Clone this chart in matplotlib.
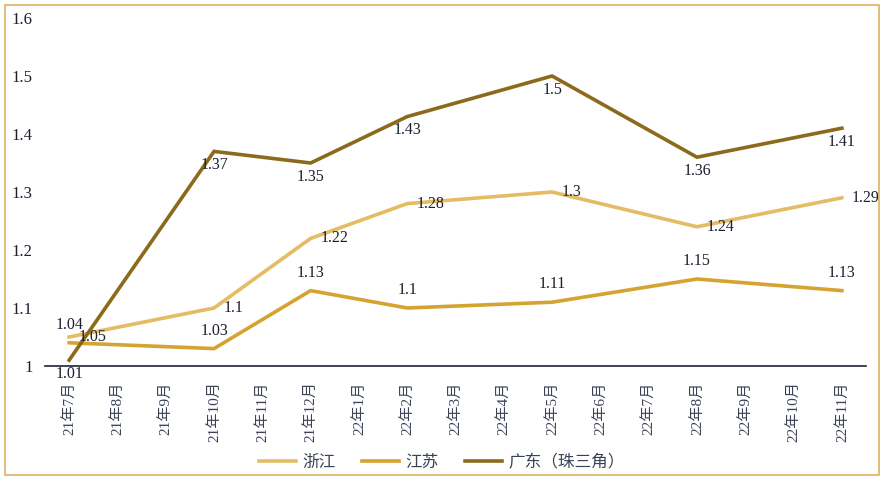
import matplotlib
matplotlib.use("Agg")
import matplotlib.pyplot as plt
from matplotlib.patches import Rectangle

plt.rcParams['font.family'] = ['Liberation Serif', 'Noto Sans CJK SC', 'DejaVu Sans']

months = ["21年7月", "21年8月", "21年9月", "21年10月", "21年11月", "21年12月",
          "22年1月", "22年2月", "22年3月", "22年4月", "22年5月", "22年6月",
          "22年7月", "22年8月", "22年9月", "22年10月", "22年11月"]
point_months = ["21年7月", "21年10月", "21年12月", "22年2月", "22年5月", "22年8月", "22年11月"]
zhejiang = [1.05, 1.10, 1.22, 1.28, 1.30, 1.24, 1.29]
jiangsu = [1.04, 1.03, 1.13, 1.10, 1.11, 1.15, 1.13]
guangdong = [1.01, 1.37, 1.35, 1.43, 1.50, 1.36, 1.41]
series_names = ["浙江", "江苏", "广东（珠三角）"]
colors = ["#E3BC64", "#D4A330", "#8C6A1C"]

fig = plt.figure(figsize=(8.84, 4.80), dpi=100)
ax = fig.add_axes([45/884, 114/480, 821/884, 348/480])

xs = [months.index(m) for m in point_months]
text_color = "#1B1F2E"

series = [zhejiang, jiangsu, guangdong]
for vals, name, c in zip(series, series_names, colors):
    ax.plot(xs, vals, color=c, lw=2.6, label=name, solid_joinstyle='miter')

fs = 11.5
for x, v in zip(xs, zhejiang):
    ax.annotate(f"{v:g}", (x, v), xytext=(7, 0), textcoords="offset points",
                ha="left", va="center", fontsize=fs, color=text_color)
for x, v in zip(xs, jiangsu):
    ax.annotate(f"{v:g}", (x, v), xytext=(0, 7), textcoords="offset points",
                ha="center", va="bottom", fontsize=fs, color=text_color)
for x, v in zip(xs, guangdong):
    ax.annotate(f"{v:g}", (x, v), xytext=(0, -4), textcoords="offset points",
                ha="center", va="top", fontsize=fs, color=text_color)

ax.set_xlim(-0.5, len(months) - 0.5)
ax.set_ylim(1.0, 1.6)
ax.set_yticks([1.0, 1.1, 1.2, 1.3, 1.4, 1.5, 1.6])
ax.set_yticklabels(["1", "1.1", "1.2", "1.3", "1.4", "1.5", "1.6"], fontsize=12, color=text_color)
ax.set_xticks(range(len(months)))
ax.set_xticklabels(months, rotation=90, fontsize=11, color="#3A4255")
ax.tick_params(axis='both', length=0)
ax.tick_params(axis='y', pad=9)
ax.tick_params(axis='x', pad=11)
for s in ["top", "right", "left"]:
    ax.spines[s].set_visible(False)
ax.spines["bottom"].set_color("#1B2433")
ax.spines["bottom"].set_linewidth(1.2)

leg = fig.legend(loc="center", bbox_to_anchor=(0.5, 17/480), ncol=3, frameon=False,
                 fontsize=12, handlelength=2.2, columnspacing=1.6, handletextpad=0.4)
for t in leg.get_texts():
    t.set_color("#3A4255")

fig.patches.append(Rectangle((5/884, 5/480), 874/884, 470/480, transform=fig.transFigure,
                             fill=False, edgecolor="#D8B460", lw=1.2))

fig.savefig("out.png", dpi=100)
